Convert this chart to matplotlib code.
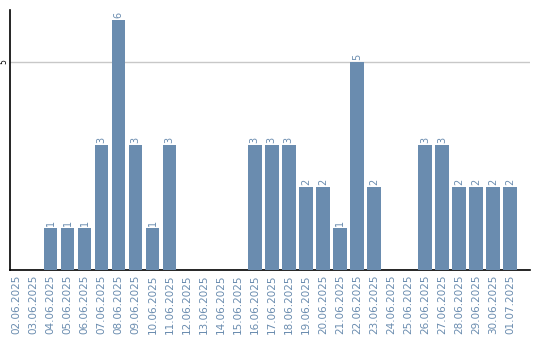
import matplotlib
matplotlib.use("Agg")
import matplotlib.pyplot as plt

dates = ["02.06.2025","03.06.2025","04.06.2025","05.06.2025","06.06.2025","07.06.2025",
         "08.06.2025","09.06.2025","10.06.2025","11.06.2025","12.06.2025","13.06.2025",
         "14.06.2025","15.06.2025","16.06.2025","17.06.2025","18.06.2025","19.06.2025",
         "20.06.2025","21.06.2025","22.06.2025","23.06.2025","24.06.2025","25.06.2025",
         "26.06.2025","27.06.2025","28.06.2025","29.06.2025","30.06.2025","01.07.2025"]
values = [0,0,1,1,1,3,6,3,1,3,0,0,0,0,3,3,3,2,2,1,5,2,0,0,3,3,2,2,2,2]

bar_color = "#6a8caf"
fig = plt.figure(figsize=(5.4, 3.4), dpi=100)
ax = fig.add_axes([10/540, 70/340, 520/540, 260/340])
x = list(range(len(dates)))
bars = ax.bar(x, values, width=0.8, color=bar_color, zorder=3)
for xi, v in zip(x, values):
    if v > 0:
        ax.text(xi, v + 0.05, str(v), rotation=90, ha="center", va="bottom",
                fontsize=7, color=bar_color)
ax.set_xlim(-0.38, 30.17)
ax.set_ylim(0, 6.24)
ax.set_yticks([5])
ax.set_yticklabels(["5"], rotation=90, fontsize=5.5, va="center")
ax.yaxis.grid(True, color="#c8c8c8", linewidth=1, zorder=0)
ax.set_xticks(x)
ax.set_xticklabels(dates, rotation=90, fontsize=7.5, color=bar_color)
ax.tick_params(axis="x", length=0, pad=3)
ax.tick_params(axis="y", length=0, pad=1)
for s in ["top", "right"]:
    ax.spines[s].set_visible(False)
ax.spines["left"].set_linewidth(1.2)
ax.spines["bottom"].set_linewidth(1.2)
fig.savefig("out.png", dpi=100)
